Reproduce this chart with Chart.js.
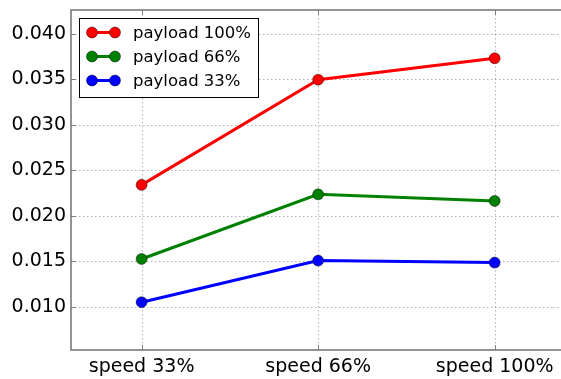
<!DOCTYPE html>
<html><head><meta charset="utf-8">
<script src="https://cdn.jsdelivr.net/npm/chart.js@4"></script>
<style>html,body{margin:0;padding:0;background:#fff;overflow:hidden}#wrap{width:561px;height:379px;position:relative}</style>
</head><body><div id="wrap"><canvas id="c" width="561" height="379"></canvas></div>
<script>
const categories = ["speed 33%", "speed 66%", "speed 100%"];
const payload100 = [0.02339, 0.03495, 0.03730];
const payload66 = [0.01525, 0.02235, 0.02163];
const payload33 = [0.01050, 0.01507, 0.01485];
const seriesNames = ["payload 100%", "payload 66%", "payload 33%"];
const seriesColors = ["#ff0000", "#008000", "#0000ff"];
const yTicks = [0.010, 0.015, 0.020, 0.025, 0.030, 0.035, 0.040];

const FONT = "'DejaVu Sans', sans-serif";
const mk = (vals) => vals.map((v, i) => ({x: i, y: v}));
const datasets = [payload100, payload66, payload33].map((vals, k) => ({
  label: seriesNames[k], data: mk(vals),
  borderColor: seriesColors[k], backgroundColor: seriesColors[k],
  pointBorderColor: 'rgba(0,0,0,0.55)', pointBorderWidth: 0.8,
  borderWidth: 3, pointRadius: 5.5, pointHoverRadius: 5.5, tension: 0
}));

function hGrid(chart, x0, x1) {
  const {ctx, scales: {y}} = chart;
  ctx.save();
  ctx.strokeStyle = 'rgba(0,0,0,0.3)';
  ctx.lineWidth = 1;
  ctx.setLineDash([1.5, 2.5]);
  yTicks.forEach(v => { const py = Math.round(y.getPixelForValue(v)) + 0.5;
    ctx.beginPath(); ctx.moveTo(x0, py); ctx.lineTo(x1, py); ctx.stroke(); });
  ctx.restore();
}
function spines(chart) {
  const {ctx, chartArea: a} = chart;
  const R = chart.width;
  ctx.save();
  ctx.strokeStyle = '#707070';
  ctx.lineWidth = 1.5;
  ctx.beginPath();
  ctx.moveTo(R + 2, a.top); ctx.lineTo(a.left, a.top); ctx.lineTo(a.left, a.bottom); ctx.lineTo(R + 2, a.bottom);
  ctx.stroke();
  ctx.restore();
}

const framePlugin = {
  id: 'frame',
  beforeDatasetsDraw(chart) {
    const {ctx, chartArea: a, scales: {x}} = chart;
    ctx.save();
    ctx.strokeStyle = 'rgba(0,0,0,0.3)';
    ctx.lineWidth = 1;
    ctx.setLineDash([1.5, 2.5]);
    [0,1,2].forEach(v => { const px = Math.round(x.getPixelForValue(v)) + 0.5;
      ctx.beginPath(); ctx.moveTo(px, a.top); ctx.lineTo(px, a.bottom); ctx.stroke(); });
    ctx.restore();
    hGrid(chart, a.left, chart.width);
  },
  afterDatasetsDraw(chart) {
    const {ctx, chartArea: a, scales: {x, y}} = chart;
    spines(chart);
    ctx.save();
    ctx.lineWidth = 1;
    ctx.strokeStyle = '#808080';
    [0,1,2].forEach(v => { const px = Math.round(x.getPixelForValue(v)) + 0.5;
      ctx.beginPath(); ctx.moveTo(px, a.bottom); ctx.lineTo(px, a.bottom - 5); ctx.stroke();
      ctx.beginPath(); ctx.moveTo(px, a.top); ctx.lineTo(px, a.top + 5); ctx.stroke(); });
    yTicks.forEach(v => { const py = Math.round(y.getPixelForValue(v)) + 0.5;
      ctx.beginPath(); ctx.moveTo(a.left, py); ctx.lineTo(a.left + 5, py); ctx.stroke(); });
    // legend
    const lx = 79.5, ly = 18.5, lw = 179, lh = 79;
    ctx.fillStyle = '#fff';
    ctx.fillRect(lx, ly, lw, lh);
    ctx.strokeStyle = '#000'; ctx.lineWidth = 1;
    ctx.strokeRect(lx, ly, lw, lh);
    ctx.font = "16.5px " + FONT;
    ctx.textBaseline = 'middle';
    chart.data.datasets.forEach((ds, i) => {
      const cy = 32.5 + i * 24;
      ctx.strokeStyle = ds.borderColor; ctx.lineWidth = 3;
      ctx.beginPath(); ctx.moveTo(92, cy); ctx.lineTo(115, cy); ctx.stroke();
      [92, 115].forEach(cx => { ctx.beginPath(); ctx.arc(cx, cy, 5.5, 0, Math.PI*2);
        ctx.fillStyle = ds.backgroundColor; ctx.fill();
        ctx.strokeStyle = 'rgba(0,0,0,0.55)'; ctx.lineWidth = 0.8; ctx.stroke(); });
      ctx.fillStyle = '#000';
      ctx.fillText(ds.label, 133, cy + 1);
    });
    ctx.restore();
  },
  afterDraw(chart) {
    const {ctx, chartArea: a} = chart;
    const R = chart.width;
    ctx.save();
    ctx.fillStyle = '#fff';
    ctx.fillRect(R - 8, a.top + 1, 8, a.bottom - a.top - 2);
    ctx.restore();
    hGrid(chart, R - 8, R);
  }
};

new Chart(document.getElementById('c'), {
  type: 'line',
  data: { datasets },
  options: {
    responsive: false, animation: false,
    layout: { padding: { top: 10, right: 0, left: 0, bottom: 0 } },
    plugins: { legend: { display: false }, tooltip: { enabled: false } },
    scales: {
      x: { type: 'linear', min: -0.4, max: 2.34,
        afterBuildTicks: s => { s.ticks = [0,1,2].map(v => ({value: v})); },
        afterFit: s => { s.height = 29; s.paddingLeft = 0; s.paddingRight = 0; },
        grid: { display: false }, border: { display: false },
        ticks: { callback: v => categories[v], font: { family: FONT, size: 19 }, color: '#000', padding: -2, maxRotation: 0, autoSkip: false }
      },
      y: { min: 0.00525, max: 0.0426,
        afterBuildTicks: s => { s.ticks = yTicks.map(v => ({value: v})); },
        afterFit: s => { s.width = 71; s.paddingTop = 0; s.paddingBottom = 0; },
        grid: { display: false }, border: { display: false },
        ticks: { callback: v => v.toFixed(3), font: { family: FONT, size: 19 }, color: '#000', padding: -3 }
      }
    }
  },
  plugins: [framePlugin]
});
</script></body></html>
